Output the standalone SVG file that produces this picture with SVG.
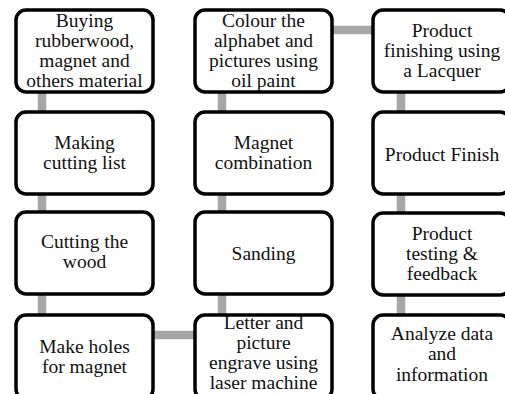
<svg xmlns="http://www.w3.org/2000/svg" width="505" height="394" viewBox="0 0 505 394">
  <style>
    .box { fill: #ffffff; stroke: #000000; stroke-width: 3.5; }
    .link { stroke: #a6a6a6; stroke-width: 8.5; fill: none; }
    .lbl { font-family: 'Liberation Serif', 'DejaVu Serif', serif; font-size: 19.5px; fill: #111111; text-anchor: middle; }
  </style>
  <rect width="505" height="394" fill="#ffffff"/>

  <!-- connectors (drawn under the boxes) -->
  <g id="connectors">
    <line class="link" x1="42" y1="50" x2="42" y2="356"/>
    <line class="link" x1="84" y1="335" x2="264" y2="335"/>
    <line class="link" x1="222" y1="50" x2="222" y2="356"/>
    <line class="link" x1="264" y1="30" x2="442" y2="30"/>
    <line class="link" x1="401" y1="50" x2="401" y2="356"/>
  </g>

  <!-- column 1 -->
  <g id="buying">
    <rect class="box" x="16" y="10" width="137" height="82" rx="10"/>
    <text class="lbl"><tspan x="84.5" y="27">Buying</tspan><tspan x="84.5" y="47">rubberwood,</tspan><tspan x="84.5" y="67">magnet and</tspan><tspan x="84.5" y="87">others material</tspan></text>
  </g>
  <g id="cutting-list">
    <rect class="box" x="16" y="112" width="137" height="82" rx="10"/>
    <text class="lbl"><tspan x="84.5" y="149">Making</tspan><tspan x="84.5" y="169">cutting list</tspan></text>
  </g>
  <g id="cutting-wood">
    <rect class="box" x="16" y="212" width="137" height="82" rx="10"/>
    <text class="lbl"><tspan x="84.5" y="248">Cutting the</tspan><tspan x="84.5" y="268">wood</tspan></text>
  </g>
  <g id="holes">
    <rect class="box" x="16" y="315" width="137" height="84" rx="10"/>
    <text class="lbl"><tspan x="84.5" y="353">Make holes</tspan><tspan x="84.5" y="373">for magnet</tspan></text>
  </g>

  <!-- column 2 -->
  <g id="engrave">
    <rect class="box" x="195" y="315" width="137" height="84" rx="10"/>
    <text class="lbl"><tspan x="263.5" y="329">Letter and</tspan><tspan x="263.5" y="349">picture</tspan><tspan x="263.5" y="369">engrave using</tspan><tspan x="263.5" y="389">laser machine</tspan></text>
  </g>
  <g id="sanding">
    <rect class="box" x="195" y="212" width="137" height="82" rx="10"/>
    <text class="lbl" x="263.5" y="260">Sanding</text>
  </g>
  <g id="magnet">
    <rect class="box" x="195" y="112" width="137" height="82" rx="10"/>
    <text class="lbl"><tspan x="263.5" y="149">Magnet</tspan><tspan x="263.5" y="169">combination</tspan></text>
  </g>
  <g id="colour">
    <rect class="box" x="195" y="10" width="137" height="82" rx="10"/>
    <text class="lbl"><tspan x="263.5" y="27">Colour the</tspan><tspan x="263.5" y="47">alphabet and</tspan><tspan x="263.5" y="67">pictures using</tspan><tspan x="263.5" y="87">oil paint</tspan></text>
  </g>

  <!-- column 3 -->
  <g id="lacquer">
    <rect class="box" x="373" y="10" width="137" height="82" rx="10"/>
    <text class="lbl"><tspan x="442" y="37">Product</tspan><tspan x="442" y="57">finishing using</tspan><tspan x="442" y="77">a Lacquer</tspan></text>
  </g>
  <g id="finish">
    <rect class="box" x="373" y="112" width="137" height="82" rx="10"/>
    <text class="lbl" x="442" y="161">Product Finish</text>
  </g>
  <g id="testing">
    <rect class="box" x="373" y="213" width="137" height="82" rx="10"/>
    <text class="lbl"><tspan x="442" y="240">Product</tspan><tspan x="442" y="260">testing &amp;</tspan><tspan x="442" y="280">feedback</tspan></text>
  </g>
  <g id="analyze">
    <rect class="box" x="373" y="315" width="137" height="84" rx="10"/>
    <text class="lbl"><tspan x="442" y="340">Analyze data</tspan><tspan x="442" y="360">and</tspan><tspan x="442" y="381">information</tspan></text>
  </g>
</svg>
